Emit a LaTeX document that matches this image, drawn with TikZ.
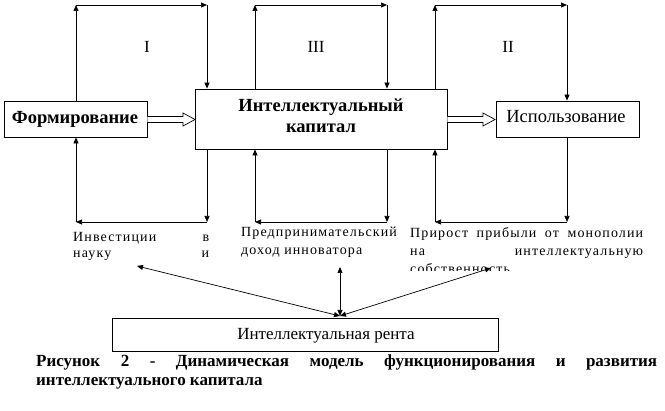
\documentclass[tikz,border=0pt]{standalone}
\usepackage{fontspec}
\setmainfont{Liberation Serif}
\newfontfamily\smallserif[LetterSpace=8]{Liberation Serif}
\usetikzlibrary{arrows.meta}
\begin{document}
\begin{tikzpicture}[x=1pt,y=-1pt,
  box/.style={draw,line width=0.8pt,inner sep=0pt},
  conn/.style={draw,line width=0.7pt,-{Triangle[length=6pt,width=5pt]}},
  dconn/.style={draw,line width=0.7pt,{Triangle[length=6pt,width=5pt]}-{Triangle[length=6pt,width=5pt]}},
  hollow/.style={draw,line width=0.7pt,fill=white},
  bigb/.style={font=\fontsize{18.5}{21}\selectfont\bfseries,inner sep=0pt},
  bigr/.style={font=\fontsize{18.5}{21}\selectfont,inner sep=0pt},
  small/.style={font=\smallserif\fontsize{14}{16}\selectfont,inner sep=0pt},
  capt/.style={font=\fontsize{17}{19}\selectfont\bfseries,inner sep=0pt},
  roman/.style={font=\fontsize{17}{19}\selectfont,inner sep=0pt,anchor=base}]
\useasboundingbox (0,0) rectangle (665,411);
% boxes
\draw[box] (4,101) rectangle (147,137);
\draw[box] (195,89) rectangle (447,149);
\draw[box] (496,101) rectangle (639,137);
\draw[box] (112,318) rectangle (498,351);
\node (F) [box,draw=none,minimum width=143pt,minimum height=36pt] at (75.5,119) {};
\node (IC) [box,draw=none,minimum width=252pt,minimum height=60pt] at (321,119) {};
\node (U) [box,draw=none,minimum width=143pt,minimum height=36pt] at (567.5,119) {};
\node (R) [box,draw=none,minimum width=386pt,minimum height=33pt] at (305,334.5) {};
% texts in boxes
\node[bigb,anchor=base] (tF) at (75,124) {Формирование};
\node[bigb,anchor=base] (tIC1) at (321,111.5) {Интеллектуальный};
\node[bigb,anchor=base] (tIC2) at (321,133) {капитал};
\node[bigr,anchor=base] (tU) at (566,123) {Использование};
\node[font=\fontsize{17}{19}\selectfont,inner sep=0pt,anchor=base] (tR) at (326,339.5) {Интеллектуальная рента};
% roman numerals
\node[roman] (n1) at (147,52.5) {I};
\node[roman] (n3) at (316,52.5) {III};
\node[roman] (n2) at (508,52.5) {II};
% corner coordinates
\coordinate (a1) at (76,5);   \coordinate (a2) at (207,5);
\coordinate (b1) at (255,5);  \coordinate (b2) at (387,5);
\coordinate (c1) at (435,5);  \coordinate (c2) at (567,5);
\coordinate (d1) at (76,222); \coordinate (d2) at (207,222);
\coordinate (e1) at (255,222);\coordinate (e2) at (387,222);
\coordinate (f1) at (435,222);\coordinate (f2) at (567,222);
% loop I
\draw[conn] (F.north -| a1) -- (a1);
\draw[conn] (a1) -- (a2);
\draw[conn] (a2) -- (IC.north -| a2);
\draw[conn] (IC.south -| d2) -- (d2);
\draw[conn] (d2) -- (d1);
\draw[conn] (d1) -- (F.south -| d1);
% loop III
\draw[conn] (IC.north -| b1) -- (b1);
\draw[conn] (b1) -- (b2);
\draw[conn] (b2) -- (IC.north -| b2);
\draw[conn] (IC.south -| e2) -- (e2);
\draw[conn] (e2) -- (e1);
\draw[conn] (e1) -- (IC.south -| e1);
% loop II
\draw[conn] (IC.north -| c1) -- (c1);
\draw[conn] (c1) -- (c2);
\draw[conn] (c2) -- (U.north -| c2);
\draw[conn] (U.south -| f2) -- (f2);
\draw[conn] (f2) -- (f1);
\draw[conn] (f1) -- (IC.south -| f1);
% hollow arrows
\draw[hollow] (F.east |- 0,116.5) -- (183,116.5) -- (183,113) -- (195,119.5) -- (183,126) -- (183,122.5) -- (F.east |- 0,122.5);
\draw[hollow] (IC.east |- 0,116.5) -- (483,116.5) -- (483,113) -- (495,119.5) -- (483,126) -- (483,122.5) -- (IC.east |- 0,122.5);
% lower texts
\node[small,anchor=base west] (L1) at (73,241.5) {\hbox to 136pt{Инвестиции\hfill в}};
\node[small,anchor=base west] (L2) at (73,257.5) {\hbox to 136pt{науку\hfill и}};
\node[small,anchor=base west] (M1) at (241,237) {Предпринимательский};
\node[small,anchor=base west] (M2) at (241,255) {доход инноватора};
\node[small,anchor=base west] (P1) at (410,237.5) {\hbox to 233pt{Прирост\hfill прибыли\hfill от\hfill монополии}};
\node[small,anchor=base west] (P2) at (410,255.5) {\hbox to 233pt{на\hfill интеллектуальную}};
\begin{scope}
\clip (400,259) rectangle (660,271);
\node[small,anchor=base west] (P3) at (410,273.5) {собственность};
\end{scope}
% rent arrows
\coordinate (g1) at (137,266);
\coordinate (g2) at (340,267);
\coordinate (g3) at (491,268);
\coordinate (h) at (340,316);
\draw[dconn] (g1) -- (h);
\draw[dconn] (g2) -- (h);
\draw[dconn] (g3) -- (h);
% caption
\node[capt,anchor=base west] (C1) at (36,366.5) {\hbox to 621pt{Рисунок\hfill 2\hfill -\hfill Динамическая\hfill модель\hfill функционирования\hfill и\hfill развития}};
\node[capt,anchor=base west] (C2) at (36,386) {интеллектуального капитала};
\end{tikzpicture}
\end{document}
